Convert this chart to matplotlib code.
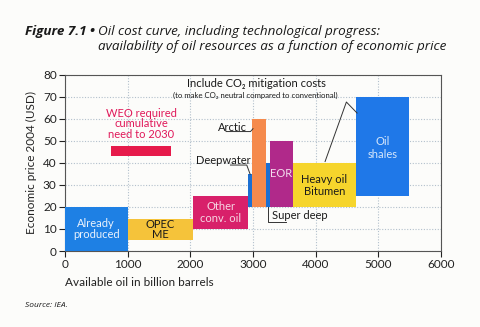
import matplotlib
matplotlib.use("Agg")
import matplotlib.pyplot as plt

# Resource segments of the cost curve (billion barrels, USD per barrel)
categories = ["Already produced", "OPEC ME", "Other conv. oil", "Deepwater", "Arctic",
              "Super deep", "EOR", "Heavy oil Bitumen", "Oil shales"]
volumes = [1000, 1050, 870, 70, 220, 60, 370, 1000, 850]
price_low = [0, 5, 10, 20, 20, 20, 20, 20, 25]
price_high = [20, 14.7, 25, 35, 60, 40, 50, 40, 70]
colors = ["#1e80e4", "#f5c33a", "#d8206a", "#1b6fd2", "#f58a4c",
          "#1b6fd2", "#b0298a", "#f6d52c", "#1f78e8"]

# WEO requirement band
weo_start, weo_end = 730, 1690
weo_low, weo_high = 43.3, 47.5

x_ticks = [0, 1000, 2000, 3000, 4000, 5000, 6000]
y_ticks = [0, 10, 20, 30, 40, 50, 60, 70, 80]

FONT = ["Lato", "DejaVu Sans"]
plt.rcParams["font.family"] = FONT

fig = plt.figure(figsize=(4.8, 3.27), dpi=100, facecolor="#fcfcfa")
ax = fig.add_axes([0.1354, 0.2324, 0.7834, 0.5392])
ax.set_facecolor("#fcfcfa")

starts = [sum(volumes[:i]) for i in range(len(volumes))]
for s, w, lo, hi, c in zip(starts, volumes, price_low, price_high, colors):
    ax.bar(s, hi - lo, width=w, bottom=lo, align="edge", color=c, zorder=3, linewidth=0)

ax.bar(weo_start, weo_high - weo_low, width=weo_end - weo_start, bottom=weo_low,
       align="edge", color="#e61a4b", zorder=3, linewidth=0)

ax.set_xlim(0, 6000)
ax.set_ylim(0, 80)
ax.set_xticks(x_ticks)
ax.set_yticks(y_ticks)
ax.grid(True, linestyle=(0, (1, 1.5)), color="#b3c0cc", linewidth=0.8, zorder=0)
ax.tick_params(axis="both", direction="out", length=4, width=0.8, labelsize=8.5,
               colors="#222222", pad=2)
for sp in ax.spines.values():
    sp.set_color("#555555")
    sp.set_linewidth(0.8)

ax.set_ylabel("Economic price 2004 (USD)", fontsize=8.5, color="#222222", labelpad=4)
fig.text(0.1354, 0.137, "Available oil in billion barrels", fontsize=8.5,
         color="#222222", ha="left", va="center")

# Labels inside the segments
def mid(i):
    return starts[i] + volumes[i] / 2

ax.text(mid(0), 10, "Already\nproduced", ha="center", va="center", fontsize=8,
        color="#eaf2fc", linespacing=1.1, zorder=4)
ax.text(mid(1), 9.8, "OPEC\nME", ha="center", va="center", fontsize=8,
        color="#1a1a1a", linespacing=0.95, zorder=4)
ax.text(mid(2), 17.3, "Other\nconv. oil", ha="center", va="center", fontsize=8,
        color="#f6d6e3", linespacing=1.1, zorder=4)
ax.text(mid(6), 35.3, "EOR", ha="center", va="center", fontsize=8,
        color="#f3dcee", zorder=4)
ax.text(mid(7), 29.9, "Heavy oil\nBitumen", ha="center", va="center", fontsize=8,
        color="#1a1a1a", linespacing=1.1, zorder=4)
ax.text(mid(8), 46.8, "Oil\nshales", ha="center", va="center", fontsize=8,
        color="#d6e7fb", linespacing=1.3, zorder=4)

ax.text(1220, 57.7, "WEO required\ncumulative\nneed to 2030", ha="center", va="center",
        fontsize=8, color="#e0195a", linespacing=0.95, zorder=4)

# Callouts
ax.text(2680, 56, "Arctic", ha="center", va="center", fontsize=8, color="#1a1a1a", zorder=4)
ax.plot([2570, 2960, 3000], [54.2, 54.2, 55.5], color="#333333", lw=0.7, zorder=4)

ax.text(2520, 41.2, "Deepwater", ha="center", va="center", fontsize=8, color="#1a1a1a", zorder=4)
ax.plot([2640, 2900, 2955], [39.0, 39.0, 34.8], color="#333333", lw=0.7, zorder=4)

ax.text(3745, 16, "Super deep", ha="center", va="center", fontsize=8, color="#1a1a1a", zorder=4)
ax.plot([3240, 3240, 3530], [20, 13.1, 13.1], color="#333333", lw=0.7, zorder=4)

ax.text(3060, 76.0, "Include CO\u2082 mitigation costs", ha="center", va="center",
        fontsize=8, color="#1a1a1a", zorder=4)
ax.text(3040, 70.8, "(to make CO\u2082 neutral compared to conventional)", ha="center",
        va="center", fontsize=5.6, color="#1a1a1a", zorder=4)
ax.plot([4150, 4490, 4660], [40.6, 67.6, 62.6], color="#333333", lw=0.7, zorder=4)

# Title
TITLE_FONT = ["Open Sans", "DejaVu Sans"]
fig.text(0.052, 0.905, "Figure 7.1 \u2022", fontsize=9.7, fontweight="bold",
         style="italic", color="#1a1a1a", ha="left", va="center", family=TITLE_FONT)
fig.text(0.204, 0.905, "Oil cost curve, including technological progress:",
         fontsize=9.7, style="italic", color="#1a1a1a", ha="left", va="center",
         family=TITLE_FONT)
fig.text(0.204, 0.857, "availability of oil resources as a function of economic price",
         fontsize=9.7, style="italic", color="#1a1a1a", ha="left", va="center",
         family=TITLE_FONT)

fig.text(0.052, 0.067, "Source: IEA.", fontsize=6, style="italic", color="#1a1a1a",
         ha="left", va="center", family=TITLE_FONT)

fig.savefig("out.png", dpi=100, facecolor=fig.get_facecolor())
